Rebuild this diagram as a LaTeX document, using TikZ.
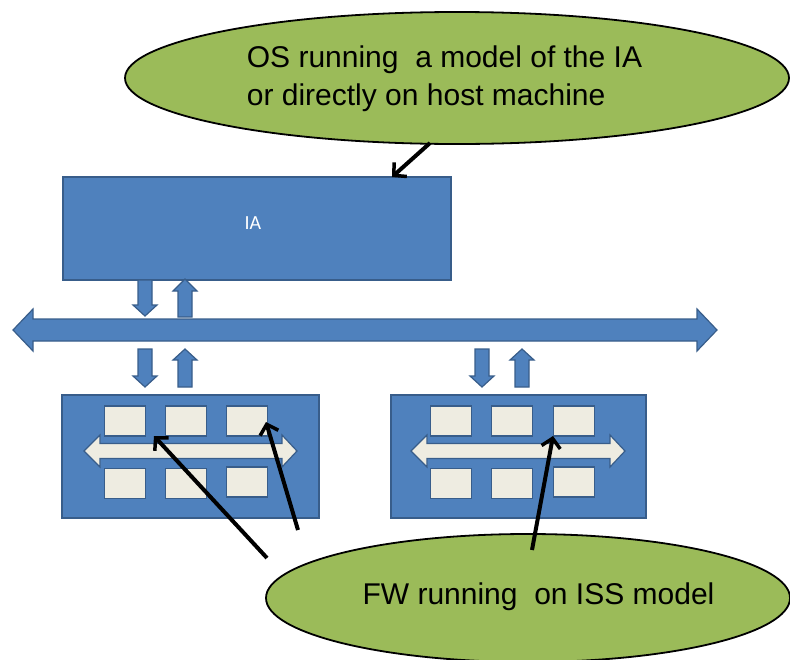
\documentclass[tikz,border=0pt]{standalone}
\usepackage{fontspec}
\setmainfont{Liberation Sans}
\newfontfamily\calibri{Carlito}
\usetikzlibrary{arrows.meta,shapes.geometric}
\definecolor{blockblue}{HTML}{4F81BD}
\definecolor{blockedge}{HTML}{385D8A}
\definecolor{leafgreen}{HTML}{9BBB59}
\definecolor{cream}{HTML}{EEECE1}

% block arrow pointing down: centre x, shaft top, head base, tip
\newcommand\dnblock[4]{%
  \filldraw[blk] (#1-7,#2) -- (#1+7,#2) -- (#1+7,#3) -- (#1+12,#3) -- (#1,#4)
    -- (#1-12,#3) -- (#1-7,#3) -- cycle;}
% block arrow pointing up: centre x, shaft bottom, head base, tip
\newcommand\upblock[4]{%
  \filldraw[blk] (#1-7,#2) -- (#1+7,#2) -- (#1+7,#3) -- (#1+12,#3) -- (#1,#4)
    -- (#1-12,#3) -- (#1-7,#3) -- cycle;}
% double-headed block arrow: style, left tip, left base, right base, right tip,
% centre y, half body, half head
\newcommand\dblblock[8]{%
  \filldraw[#1] (#2,#6) -- (#3,#6-#8) -- (#3,#6-#7) -- (#4,#6-#7) -- (#4,#6-#8)
    -- (#5,#6) -- (#4,#6+#8) -- (#4,#6+#7) -- (#3,#6+#7) -- (#3,#6+#8) -- cycle;}

\begin{document}
\begin{tikzpicture}[x=1pt,y=-1pt,
  blk/.style={fill=blockblue,draw=blockedge,line width=1.2pt,line join=miter},
  inner/.style={fill=cream,draw=blockedge,line width=1.2pt,line join=miter},
  bigbox/.style={rectangle,fill=blockblue,draw=blockedge,line width=1.5pt,inner sep=0pt},
  cell/.style={rectangle,fill=cream,draw=blockedge,line width=1.5pt,inner sep=0pt,
    minimum width=41pt,minimum height=30pt},
  note/.style={ellipse,fill=leafgreen,draw=black,line width=1.8pt,inner sep=0pt},
  notetext/.style={font=\fontsize{30}{38}\selectfont,align=left,inner sep=0pt},
  ptr/.style={draw=black,line width=4pt,
    -{Straight Barb[length=9pt,width=19pt,line width=3.5pt]}}]
\useasboundingbox (0,0) rectangle (790,659);
\clip (0,0) rectangle (790,659);

% host processor
\node[bigbox,minimum width=388pt,minimum height=103pt] (ia) at (257,228.5) {};
\node[text=white,font=\calibri\fontsize{20}{24}\selectfont] (ialabel) at (253,223) {IA};

% system bus
\dblblock{blk}{13}{33}{697}{717}{330}{11}{21}

% transfers between IA and bus
\dnblock{145}{280}{305}{316}
\upblock{185}{317}{291}{279}
% transfers between bus and the two subsystems
\dnblock{145}{349}{376}{387}
\upblock{185}{387}{360}{349}
\dnblock{482}{349}{376}{387}
\upblock{522}{387}{360}{349}

% left subsystem
\node[bigbox,minimum width=257pt,minimum height=123pt] (subA) at (190.5,456.5) {};
\dblblock{inner}{84}{100}{282}{297}{451}{7.5}{16}
\node[cell] (a1) at (125,421) {};
\node[cell] (a2) at (186,421) {};
\node[cell] (a3) at (247,421) {};
\node[cell] (a4) at (125,483.5) {};
\node[cell] (a5) at (186,483.5) {};
\node[cell] (a6) at (247,482) {};

% right subsystem
\node[bigbox,minimum width=255pt,minimum height=123pt] (subB) at (518.5,456.5) {};
\dblblock{inner}{411}{427}{610}{625}{451}{7.5}{16}
\node[cell] (b1) at (451,421) {};
\node[cell] (b2) at (512,421) {};
\node[cell] (b3) at (574,421) {};
\node[cell] (b4) at (451,483.5) {};
\node[cell] (b5) at (512,483.5) {};
\node[cell] (b6) at (574,482) {};

% callouts
\node[note,minimum width=664pt,minimum height=132pt] (osnote) at (457,78) {};
\node[notetext] (ostext) at (444.5,79) {OS running\ \ a model of the IA\\or directly on host machine};

\node[note,minimum width=524pt,minimum height=128pt] (fwnote) at (528,598) {};
\node[notetext] (fwtext) at (538.5,597) {FW running\ \ on ISS model};

% pointers from the callouts
\coordinate (osfoot) at (430,143);
\coordinate (iatop) at (392,177);
\draw[ptr] (osfoot) -- (iatop);

\coordinate (fwA) at (267,558);
\coordinate (fwB) at (298,530);
\coordinate (fwC) at (532,550);
\coordinate (tipA) at (154,436);
\coordinate (tipB) at (266,422);
\coordinate (tipC) at (553,436);
\draw[ptr] (fwA) -- (tipA);
\draw[ptr] (fwB) -- (tipB);
\draw[ptr] (fwC) -- (tipC);
\end{tikzpicture}
\end{document}
